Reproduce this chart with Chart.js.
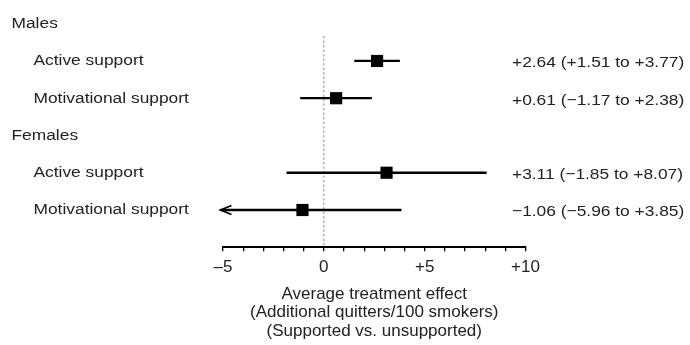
<!DOCTYPE html>
<html><head><meta charset="utf-8">
<script src="https://cdn.jsdelivr.net/npm/chart.js@4.4.1/dist/chart.umd.min.js"></script>
<style>html,body{margin:0;padding:0;background:#fff}#wrap{width:690px;height:345px;position:relative}</style>
</head><body><div id="wrap"><canvas id="c"></canvas></div>
<script>
// ---- data ----
const rowLabels = ['Males','Active support','Motivational support','Females','Active support','Motivational support'];
const headerRows = [0, 3];
const subgroupRows = [1, 2, 4, 5];
const estimates = [2.64, 0.61, 3.11, -1.06];
const lowerCI = [1.51, -1.17, -1.85, -5.96];
const upperCI = [3.77, 2.38, 8.07, 3.85];
const tickValues = [-5, 0, 5, 10];
const tickLabels = ['\u20135', '0', '+5', '+10'];
const axisTitle = ['Average treatment effect', '(Additional quitters/100 smokers)', '(Supported vs. unsupported)'];
const xMin = -5, xMax = 10;
const nullEffect = 0;

const FONT = '"Liberation Sans", Arial, Helvetica, sans-serif';
const fmt = v => (v < 0 ? '\u2212' : '+') + Math.abs(v).toFixed(2);
const rightText = k => `${fmt(estimates[k])} (${fmt(lowerCI[k])} to ${fmt(upperCI[k])})`;

const yTop = 0.33, yBottom = 6;

const datasets = [];
// point estimates (first => drawn on top)
datasets.push({
  type: 'scatter',
  data: subgroupRows.map((r, k) => ({ x: estimates[k], y: r })),
  pointStyle: 'rect', pointRadius: 8.6, backgroundColor: '#000', borderColor: '#000', borderWidth: 0,
  clip: false
});
// confidence interval lines
subgroupRows.forEach((r, k) => {
  datasets.push({
    type: 'line',
    data: [{ x: Math.max(lowerCI[k], xMin), y: r }, { x: Math.min(upperCI[k], xMax), y: r }],
    borderColor: '#000', borderWidth: 2.3, pointRadius: 0, fill: false, clip: false
  });
});
// null-effect dashed line
datasets.push({
  type: 'line',
  data: [{ x: nullEffect, y: yTop }, { x: nullEffect, y: yBottom }],
  borderColor: '#8f8f8f', borderWidth: 1, borderDash: [2.5, 2], pointRadius: 0, fill: false
});

function drawScaled(ctx, txt, x, y) {
  ctx.save();
  ctx.translate(x, y);
  ctx.scale(1.12, 1);
  ctx.fillText(txt, 0, 0);
  ctx.restore();
}

const forestText = {
  id: 'forestText',
  afterDraw(chart) {
    const ctx = chart.ctx, ys = chart.scales.y, xs = chart.scales.x;
    ctx.save();
    ctx.fillStyle = '#222';
    ctx.font = '15.5px ' + FONT;
    ctx.textBaseline = 'middle';
    ctx.textAlign = 'left';
    rowLabels.forEach((lab, i) => {
      const indent = headerRows.includes(i) ? 11.5 : 33.5;
      drawScaled(ctx, lab, indent, ys.getPixelForValue(i));
    });
    subgroupRows.forEach((r, k) => {
      drawScaled(ctx, rightText(k), 512, ys.getPixelForValue(r) + 2);
    });
    // arrows for truncated intervals
    ctx.strokeStyle = '#000';
    subgroupRows.forEach((r, k) => {
      if (lowerCI[k] < xMin) {
        const px = xs.getPixelForValue(xMin) - 2.5, py = ys.getPixelForValue(r);
        ctx.lineWidth = 2.3;
        ctx.beginPath(); ctx.moveTo(px, py); ctx.lineTo(px + 5, py); ctx.stroke();
        ctx.lineWidth = 1.8;
        ctx.beginPath(); ctx.moveTo(px + 11, py - 4.5); ctx.lineTo(px, py); ctx.lineTo(px + 11, py + 4.5); ctx.stroke();
      }
    });
    ctx.restore();
  }
};

new Chart(document.getElementById('c'), {
  type: 'scatter',
  data: { datasets },
  plugins: [forestText],
  options: {
    responsive: true, maintainAspectRatio: false, animation: false,
    layout: { padding: { left: 223, right: 164.5, top: 36, bottom: 0 } },
    plugins: { legend: { display: false }, tooltip: { enabled: false } },
    scales: {
      y: { type: 'linear', display: false, min: yTop, max: yBottom, reverse: true },
      x: {
        type: 'linear', position: 'bottom', min: xMin, max: xMax,
        grid: { display: true, drawOnChartArea: false, drawTicks: true, tickLength: 4, color: '#000', lineWidth: 1.3 },
        border: { display: true, color: '#000', width: 2 },
        ticks: {
          stepSize: 1, autoSkip: false, maxRotation: 0, padding: 5.5, color: '#222',
          font: { family: FONT, size: 17, lineHeight: 1.2 },
          callback: v => { const i = tickValues.indexOf(v); return i >= 0 ? tickLabels[i] : ''; }
        },
        title: {
          display: true, text: axisTitle, color: '#222',
          font: { family: FONT, size: 17, lineHeight: 1.09 },
          padding: { top: 2, bottom: 4.75 }
        }
      }
    }
  }
});
</script></body></html>
